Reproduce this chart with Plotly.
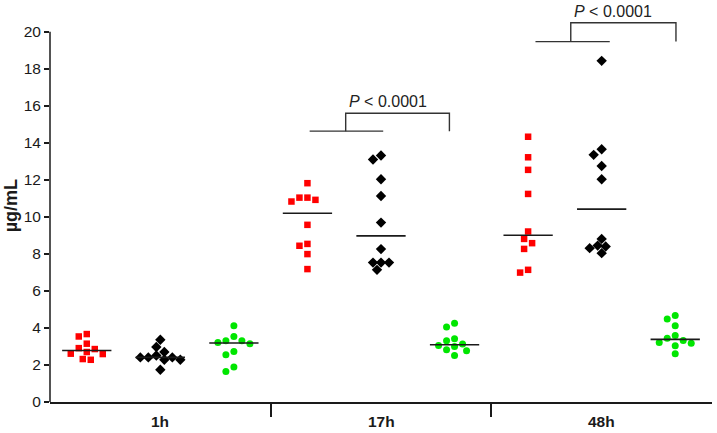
import numpy as np
import plotly.graph_objects as go

# ---- data (µg/mL) ----
time_points = ["1h", "17h", "48h"]
series_names = ["red", "black", "green"]

red_1h = [3.67, 3.54, 3.15, 2.91, 2.86, 2.70, 2.61, 2.59, 2.32, 2.28]
black_1h = [3.36, 2.97, 2.70, 2.51, 2.41, 2.41, 2.41, 2.28, 2.28, 1.74]
green_1h = [4.12, 3.54, 3.31, 3.31, 3.22, 3.15, 2.73, 2.55, 1.89, 1.65]

red_17h = [11.82, 11.04, 11.04, 10.92, 10.83, 9.57, 8.54, 8.44, 7.99, 7.18]
black_17h = [13.32, 13.10, 12.03, 11.13, 9.69, 8.26, 7.53, 7.53, 7.53, 7.14]
green_17h = [4.26, 4.05, 3.42, 3.31, 3.13, 3.05, 3.00, 2.82, 2.77, 2.51]

red_48h = [14.33, 13.22, 12.54, 11.24, 9.21, 8.81, 8.58, 8.27, 7.14, 6.99]
black_48h = [18.43, 13.65, 13.35, 12.75, 12.03, 8.81, 8.45, 8.40, 8.31, 8.04]
green_48h = [4.67, 4.48, 4.12, 3.59, 3.45, 3.32, 3.22, 3.18, 3.04, 2.61]

y_ticks = list(range(0, 21, 2))
p_label = "<i>P</i> < 0.0001"

groups = [
    (red_1h, "red"), (black_1h, "black"), (green_1h, "green"),
    (red_17h, "red"), (black_17h, "black"), (green_17h, "green"),
    (red_48h, "red"), (black_48h, "black"), (green_48h, "green"),
]

styles = {
    "red": dict(symbol="square", size=6.5, color="#ff0000"),
    "black": dict(symbol="diamond", size=8, color="#000000"),
    "green": dict(symbol="circle", size=7, color="#00e600"),
}

# layout geometry
W, H = 717, 433
margin = dict(l=50, r=5, t=4, b=31)
x_range = [0.5, 9.5]
y_range = [0, 21.5]
px_x = (W - margin["l"] - margin["r"]) / (x_range[1] - x_range[0])
px_y = (H - margin["t"] - margin["b"]) / (y_range[1] - y_range[0])


def swarm_offsets(vals, d=8.0):
    """Simple beeswarm: returns x offsets (in axis units) so markers do not overlap."""
    order = np.argsort(vals)[::-1]
    placed = []
    offs = np.zeros(len(vals))
    cands = [0.0]
    for k in range(1, 8):
        cands += [-k * d / 2, k * d / 2]
    for i in order:
        yp = vals[i] * px_y
        for c in cands:
            ok = all((c - px) ** 2 + (yp - py) ** 2 >= (0.95 * d) ** 2 for px, py in placed)
            if ok:
                placed.append((c, yp))
                offs[i] = c / px_x
                break
    return offs


fig = go.Figure()
half = 0.335
for gi, (vals, name) in enumerate(groups):
    pos = gi + 1
    v = np.array(vals)
    offs = swarm_offsets(v)
    st = styles[name]
    fig.add_trace(go.Scatter(
        x=pos + offs, y=v, mode="markers",
        marker=dict(symbol=st["symbol"], size=st["size"], color=st["color"],
                    line=dict(width=0)),
        showlegend=False, hoverinfo="y", cliponaxis=False))
    med = float(np.median(v))
    fig.add_trace(go.Scatter(
        x=[pos - half, pos + half], y=[med, med], mode="lines",
        line=dict(color="#1a1a1a", width=1.6), showlegend=False, hoverinfo="skip"))

# significance brackets
bracket_color = "#333333"
brackets = [
    # (lower x0, lower x1, lower y, upper x0, upper x1, upper y, text x, text y)
    (4.03, 5.03, 14.63, 4.52, 5.93, 15.60, 5.10, 16.22),
    (7.10, 8.11, 19.47, 7.58, 9.01, 20.49, 8.15, 21.07),
]
for lx0, lx1, ly, ux0, ux1, uy, tx, ty in brackets:
    fig.add_trace(go.Scatter(x=[lx0, lx1], y=[ly, ly], mode="lines",
                             line=dict(color=bracket_color, width=1.4),
                             showlegend=False, hoverinfo="skip"))
    fig.add_trace(go.Scatter(x=[ux0, ux0, ux1, ux1], y=[ly, uy, uy, ly], mode="lines",
                             line=dict(color=bracket_color, width=1.4),
                             showlegend=False, hoverinfo="skip"))
    fig.add_annotation(x=tx, y=ty, xref="x", yref="y", text=p_label, showarrow=False,
                       font=dict(size=16, color="#222222"), xanchor="center", yanchor="middle")

# category labels
for i, lab in enumerate(time_points):
    fig.add_annotation(x=2 + 3 * i, y=0, xref="x", yref="paper", text="<b>" + lab + "</b>",
                       showarrow=False, yanchor="top", yshift=-9,
                       font=dict(size=15.5, color="#1a1a1a"))

# y axis title
fig.add_annotation(x=0, y=10.6, xref="paper", yref="y", text="<b>µg/mL</b>", textangle=-90,
                   showarrow=False, xanchor="center", yanchor="middle", xshift=-39.5,
                   font=dict(size=18, color="#1a1a1a"))

# y axis line (only up to 20)
fig.add_shape(type="line", xref="paper", yref="y", x0=0, x1=0, y0=0, y1=20,
              line=dict(color="#1a1a1a", width=1.5))

fig.update_layout(
    width=W, height=H, margin=margin,
    paper_bgcolor="white", plot_bgcolor="white",
    font=dict(family="Arial, Liberation Sans, Helvetica, sans-serif", color="#1a1a1a"),
    xaxis=dict(range=x_range, showgrid=False, zeroline=False, showline=True,
               linecolor="#1a1a1a", linewidth=1.5,
               tickmode="array", tickvals=[3.5, 6.5], ticktext=["", ""],
               ticks="outside", ticklen=13, tickwidth=1.5, tickcolor="#1a1a1a"),
    yaxis=dict(range=y_range, showgrid=False, zeroline=False, showline=False,
               tickmode="array", tickvals=y_ticks, ticktext=[str(t) for t in y_ticks],
               ticks="outside", ticklen=5, tickwidth=1.5, tickcolor="#1a1a1a",
               tickfont=dict(size=15.5, color="#1a1a1a")),
)

fig.write_html("out.html", config={"displayModeBar": False},
               post_script="document.body.style.margin='0';document.body.style.overflow='hidden';")
